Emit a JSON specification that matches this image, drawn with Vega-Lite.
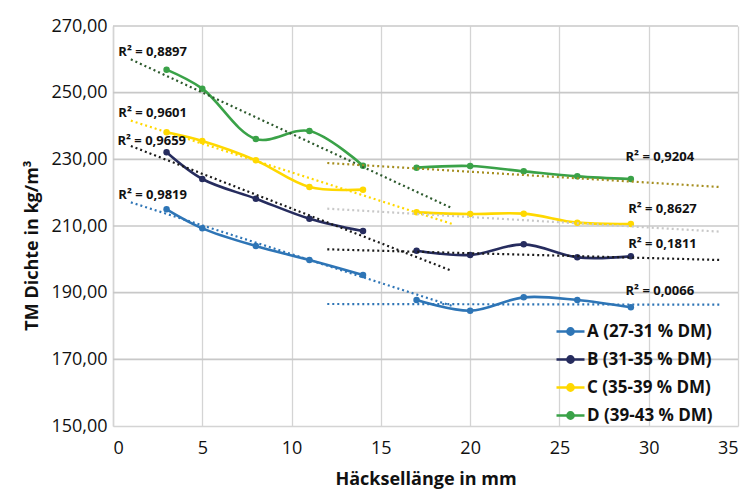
{
  "$schema": "https://vega.github.io/schema/vega-lite/v6.json",
  "width": 625,
  "height": 400,
  "autosize": {"type": "none"},
  "padding": {"left": 113, "top": 26, "right": 8, "bottom": 75},
  "background": "white",
  "config": {
    "locale": {"number": {"decimal": ",", "thousands": ".", "grouping": [3], "currency": ["", " €"]}},
    "view": {"stroke": null},
    "font": "Open Sans",
    "axis": {
      "domainColor": "#d4d4d4",
      "domainWidth": 1.5,
      "tickSize": 0,
      "labelFont": "Open Sans",
      "labelFontSize": 18,
      "labelColor": "#111111",
      "titleFont": "Open Sans",
      "titleFontSize": 18,
      "titleFontWeight": "bold",
      "titleColor": "#111111"
    },
    "legend": {
      "orient": "none",
      "legendX": 442,
      "legendY": 290,
      "symbolType": "M-1,0L1,0M-0.22,0A0.22,0.22,0,1,1,0.22,0A0.22,0.22,0,1,1,-0.22,0Z",
      "symbolSize": 784,
      "symbolStrokeWidth": 2.6,
      "labelFont": "Open Sans",
      "labelFontSize": 17,
      "labelFontWeight": "bold",
      "labelColor": "#111111",
      "labelOffset": 1,
      "rowPadding": 4,
      "labelLimit": 300
    }
  },
  "datasets": {
    "grid": [
      {"y": 170}, {"y": 190}, {"y": 210}, {"y": 230}, {"y": 250}, {"y": 270}
    ],
    "pts": [
      {"s": "A (27-31 % DM)", "g": "A1", "x": 3, "y": 215.0},
      {"s": "A (27-31 % DM)", "g": "A1", "x": 5, "y": 209.3},
      {"s": "A (27-31 % DM)", "g": "A1", "x": 8, "y": 204.0},
      {"s": "A (27-31 % DM)", "g": "A1", "x": 11, "y": 199.8},
      {"s": "A (27-31 % DM)", "g": "A1", "x": 14, "y": 195.3},
      {"s": "A (27-31 % DM)", "g": "A2", "x": 17, "y": 187.8},
      {"s": "A (27-31 % DM)", "g": "A2", "x": 20, "y": 184.6},
      {"s": "A (27-31 % DM)", "g": "A2", "x": 23, "y": 188.6},
      {"s": "A (27-31 % DM)", "g": "A2", "x": 26, "y": 187.8},
      {"s": "A (27-31 % DM)", "g": "A2", "x": 29, "y": 185.6},
      {"s": "B (31-35 % DM)", "g": "B1", "x": 3, "y": 232.1},
      {"s": "B (31-35 % DM)", "g": "B1", "x": 5, "y": 224.1},
      {"s": "B (31-35 % DM)", "g": "B1", "x": 8, "y": 218.2},
      {"s": "B (31-35 % DM)", "g": "B1", "x": 11, "y": 212.2},
      {"s": "B (31-35 % DM)", "g": "B1", "x": 14, "y": 208.5},
      {"s": "B (31-35 % DM)", "g": "B2", "x": 17, "y": 202.6},
      {"s": "B (31-35 % DM)", "g": "B2", "x": 20, "y": 201.3},
      {"s": "B (31-35 % DM)", "g": "B2", "x": 23, "y": 204.5},
      {"s": "B (31-35 % DM)", "g": "B2", "x": 26, "y": 200.6},
      {"s": "B (31-35 % DM)", "g": "B2", "x": 29, "y": 200.9},
      {"s": "C (35-39 % DM)", "g": "C1", "x": 3, "y": 238.1},
      {"s": "C (35-39 % DM)", "g": "C1", "x": 5, "y": 235.5},
      {"s": "C (35-39 % DM)", "g": "C1", "x": 8, "y": 229.7},
      {"s": "C (35-39 % DM)", "g": "C1", "x": 11, "y": 221.7},
      {"s": "C (35-39 % DM)", "g": "C1", "x": 14, "y": 220.9},
      {"s": "C (35-39 % DM)", "g": "C2", "x": 17, "y": 214.1},
      {"s": "C (35-39 % DM)", "g": "C2", "x": 20, "y": 213.6},
      {"s": "C (35-39 % DM)", "g": "C2", "x": 23, "y": 213.7},
      {"s": "C (35-39 % DM)", "g": "C2", "x": 26, "y": 211.0},
      {"s": "C (35-39 % DM)", "g": "C2", "x": 29, "y": 210.6},
      {"s": "D (39-43 % DM)", "g": "D1", "x": 3, "y": 256.9},
      {"s": "D (39-43 % DM)", "g": "D1", "x": 5, "y": 251.2},
      {"s": "D (39-43 % DM)", "g": "D1", "x": 8, "y": 236.1},
      {"s": "D (39-43 % DM)", "g": "D1", "x": 11, "y": 238.5},
      {"s": "D (39-43 % DM)", "g": "D1", "x": 14, "y": 228.1},
      {"s": "D (39-43 % DM)", "g": "D2", "x": 17, "y": 227.5},
      {"s": "D (39-43 % DM)", "g": "D2", "x": 20, "y": 228.0},
      {"s": "D (39-43 % DM)", "g": "D2", "x": 23, "y": 226.4},
      {"s": "D (39-43 % DM)", "g": "D2", "x": 26, "y": 224.9},
      {"s": "D (39-43 % DM)", "g": "D2", "x": 29, "y": 224.1}
    ],
    "trend": [
      {"t": "A1", "x": 1, "y": 217.1}, {"t": "A1", "x": 19, "y": 186.0},
      {"t": "A2", "x": 12, "y": 186.6}, {"t": "A2", "x": 34, "y": 186.4},
      {"t": "B1", "x": 1, "y": 234.0}, {"t": "B1", "x": 19, "y": 196.5},
      {"t": "B2", "x": 12, "y": 203.0}, {"t": "B2", "x": 34, "y": 199.8},
      {"t": "C1", "x": 1, "y": 241.6}, {"t": "C1", "x": 19, "y": 210.6},
      {"t": "C2", "x": 12, "y": 215.2}, {"t": "C2", "x": 34, "y": 208.3},
      {"t": "D1", "x": 1, "y": 260.0}, {"t": "D1", "x": 19, "y": 215.3},
      {"t": "D2", "x": 12, "y": 228.9}, {"t": "D2", "x": 34, "y": 221.7}
    ],
    "r2": [
      {"label": "R² = 0,8897", "x": 0.3, "y": 262.3},
      {"label": "R² = 0,9601", "x": 0.3, "y": 243.8},
      {"label": "R² = 0,9659", "x": 0.25, "y": 235.6},
      {"label": "R² = 0,9819", "x": 0.3, "y": 219.2},
      {"label": "R² = 0,9204", "x": 28.7, "y": 230.6},
      {"label": "R² = 0,8627", "x": 28.85, "y": 215.2},
      {"label": "R² = 0,1811", "x": 28.85, "y": 204.7},
      {"label": "R² = 0,0066", "x": 28.7, "y": 190.5}
    ]
  },
  "layer": [
    {
      "data": {"name": "grid"},
      "mark": {"type": "rule", "color": "#c8c8c8", "strokeWidth": 1.6, "opacity": 1},
      "encoding": {
        "x": {"datum": 0, "type": "quantitative"},
        "x2": {"datum": 35},
        "y": {"field": "y", "type": "quantitative", "scale": {"domain": [150, 270], "nice": false, "zero": false}}
      }
    },
    {
      "data": {"name": "pts"},
      "mark": {"type": "line", "interpolate": "catmull-rom", "strokeWidth": 2.6},
      "encoding": {
        "x": {
          "field": "x",
          "type": "quantitative",
          "scale": {"domain": [0, 35], "nice": false, "zero": false},
          "axis": {
            "values": [0, 5, 10, 15, 20, 25, 30, 35],
            "grid": true,
            "gridColor": "#d4d4d4",
            "gridWidth": 1.3,
            "gridOpacity": 1,
            "title": "Häcksellänge in mm",
            "labelPadding": 13,
            "titlePadding": 13
          }
        },
        "y": {
          "field": "y",
          "type": "quantitative",
          "axis": {
            "values": [150, 170, 190, 210, 230, 250, 270],
            "grid": false,
            "format": ".2f",
            "labelPadding": 6,
            "title": "TM Dichte in kg/m³",
            "titleX": -72,
            "titleY": 219
          }
        },
        "detail": {"field": "g", "type": "nominal"},
        "color": {
          "field": "s",
          "type": "nominal",
          "title": null,
          "scale": {
            "domain": ["A (27-31 % DM)", "B (31-35 % DM)", "C (35-39 % DM)", "D (39-43 % DM)"],
            "range": ["#2e75b6", "#262c5e", "#ffd800", "#3aa248"]
          }
        }
      }
    },
    {
      "data": {"name": "pts"},
      "mark": {"type": "circle", "size": 42, "opacity": 1},
      "encoding": {
        "x": {"field": "x", "type": "quantitative"},
        "y": {"field": "y", "type": "quantitative"},
        "color": {"field": "s", "type": "nominal", "title": null}
      }
    },
    {
      "data": {"name": "trend"},
      "mark": {"type": "line", "strokeDash": [2, 3], "strokeWidth": 2.2},
      "encoding": {
        "x": {"field": "x", "type": "quantitative"},
        "y": {"field": "y", "type": "quantitative"},
        "stroke": {
          "field": "t",
          "type": "nominal",
          "scale": {
            "domain": ["A1", "A2", "B1", "B2", "C1", "C2", "D1", "D2"],
            "range": ["#2e75b6", "#2e75b6", "#1a1a1a", "#1a1a1a", "#ffd800", "#c8c8c8", "#2d5a2d", "#a58e1f"]
          },
          "legend": null
        }
      }
    },
    {
      "data": {"name": "r2"},
      "mark": {"type": "text", "align": "left", "baseline": "middle", "font": "Open Sans", "fontSize": 13, "fontWeight": "bold", "color": "#111111"},
      "encoding": {
        "x": {"field": "x", "type": "quantitative"},
        "y": {"field": "y", "type": "quantitative"},
        "text": {"field": "label", "type": "nominal"}
      }
    }
  ]
}
